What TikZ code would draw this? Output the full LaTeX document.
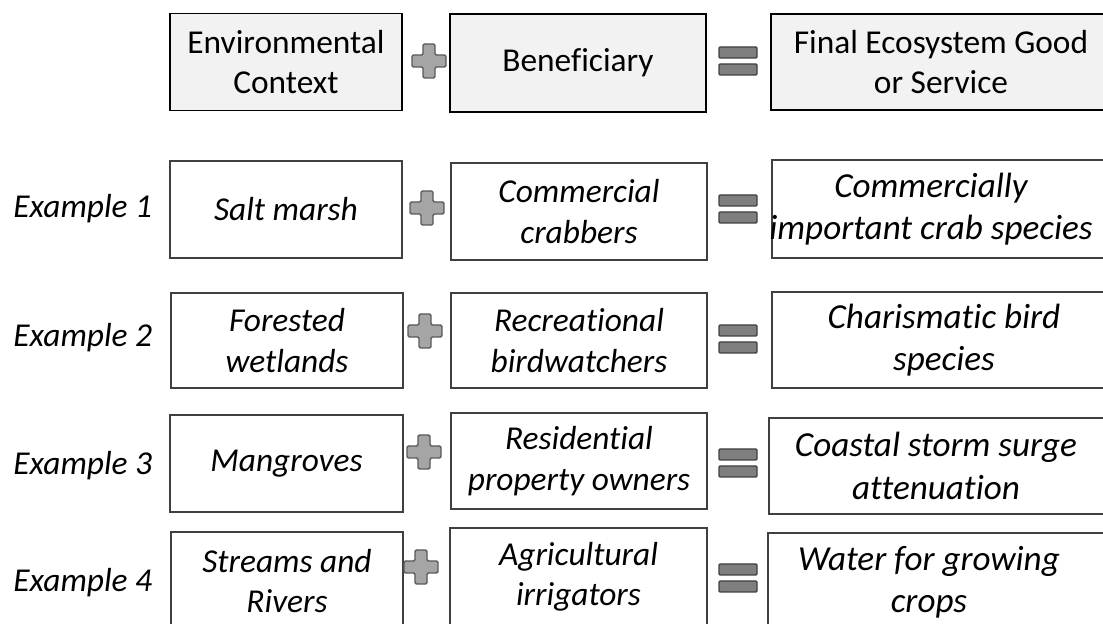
\documentclass[tikz,border=0pt]{standalone}
\usepackage{fontspec}
\setmainfont{Carlito}[Ligatures=NoCommon]
\usepackage{tikz}

\definecolor{hdrfill}{HTML}{F2F2F2}
\definecolor{plusfill}{HTML}{A5A5A5}
\definecolor{eqfill}{HTML}{7F7F7F}
\definecolor{signline}{HTML}{595959}
\definecolor{boxline}{HTML}{404040}

\begin{document}
\begin{tikzpicture}[x=0.02cm,y=-0.02cm,
    hdr/.style={draw=black,line width=0.9pt,fill=hdrfill,inner sep=0pt,align=center,
        font=\fontsize{19}{23}\selectfont},
    exbox/.style={draw=boxline,line width=0.7pt,fill=white,inner sep=0pt,align=center,
        font=\fontsize{19}{23}\selectfont\itshape},
    svctext/.style={inner sep=0pt,align=center,font=\fontsize{20}{24}\selectfont\itshape},
    exlabel/.style={inner sep=0pt,anchor=west,font=\fontsize{19}{23}\selectfont\itshape},
    plussign/.pic={\draw [signline,fill=plusfill,line width=0.8pt,rounded corners=0.8pt]
        (-6,-17)--(6,-17)--(6,-6)--(17,-6)--(17,6)--(6,6)--(6,17)--(-6,17)--(-6,6)
        --(-17,6)--(-17,-6)--(-6,-6)--cycle;},
    eqsign/.pic={\draw [boxline,fill=eqfill,line width=0.8pt,rounded corners=0.6pt]
        (-19,-14) rectangle (19,-3) (-19,3) rectangle (19,14);}]
    \useasboundingbox (0,0) rectangle (1103,624);
    % 表头
    \node [hdr,minimum width=232*0.02cm,minimum height=97*0.02cm] (ctx0) at (286,62) {Environmental\\Context};
    \node [hdr,minimum width=256*0.02cm,minimum height=98*0.02cm] (ben0) at (578,63) {Beneficiary};
    \node [hdr,minimum width=340*0.02cm,minimum height=96*0.02cm] (svc0) at (941,62) {Final Ecosystem Good\\or Service};
    \pic at (429,61) {plussign};
    \pic at (738,61) {eqsign};
    % 例1
    \node [exlabel] (lab1) at (13,209) {Example 1};
    \node [exbox,minimum width=232*0.02cm,minimum height=97*0.02cm] (ctx1) at (286,209.5) {Salt marsh};
    \node [exbox,minimum width=256*0.02cm,minimum height=97*0.02cm] (ben1) at (579,211.5) {Commercial\\crabbers};
    \node [exbox,minimum width=340*0.02cm,minimum height=98*0.02cm] (svc1) at (942,209) {};
    \node [svctext] (svct1) at (931,209) {Commercially\\important crab species};
    \pic at (427,208) {plussign};
    \pic at (738,209) {eqsign};
    % 例2
    \node [exlabel] (lab2) at (13,338) {Example 2};
    \node [exbox,minimum width=232*0.02cm,minimum height=95*0.02cm] (ctx2) at (287,340.5) {Forested\\wetlands};
    \node [exbox,minimum width=256*0.02cm,minimum height=95*0.02cm] (ben2) at (579,340.5) {Recreational\\birdwatchers};
    \node [exbox,minimum width=340*0.02cm,minimum height=96*0.02cm] (svc2) at (942,340) {};
    \node [svctext] (svct2) at (944,340) {Charismatic bird\\species};
    \pic at (425,331) {plussign};
    \pic at (738,339) {eqsign};
    % 例3
    \node [exlabel] (lab3) at (13,466) {Example 3};
    \node [exbox,minimum width=233*0.02cm,minimum height=97*0.02cm] (ctx3) at (286.5,463.5) {Mangroves};
    \node [exbox,minimum width=256*0.02cm,minimum height=96*0.02cm] (ben3) at (579,461) {Residential\\property owners};
    \node [exbox,minimum width=340*0.02cm,minimum height=96*0.02cm] (svc3) at (939,466) {};
    \node [svctext] (svct3) at (936,466) {Coastal storm surge\\attenuation};
    \pic at (424,452) {plussign};
    \pic at (738,463) {eqsign};
    % 例4
    \node [exlabel] (lab4) at (13,583) {Example 4};
    \node [exbox,minimum width=232*0.02cm,minimum height=98*0.02cm] (ctx4) at (287,581) {Streams and\\Rivers};
    \node [exbox,minimum width=257*0.02cm,minimum height=98*0.02cm] (ben4) at (578.5,577) {Agricultural\\irrigators};
    \node [exbox,minimum width=340*0.02cm,minimum height=98*0.02cm] (svc4) at (938,582) {};
    \node [svctext] (svct4) at (929,582) {Water for growing\\crops};
    \pic at (421,567) {plussign};
    \pic at (738,578) {eqsign};
\end{tikzpicture}
\end{document}
